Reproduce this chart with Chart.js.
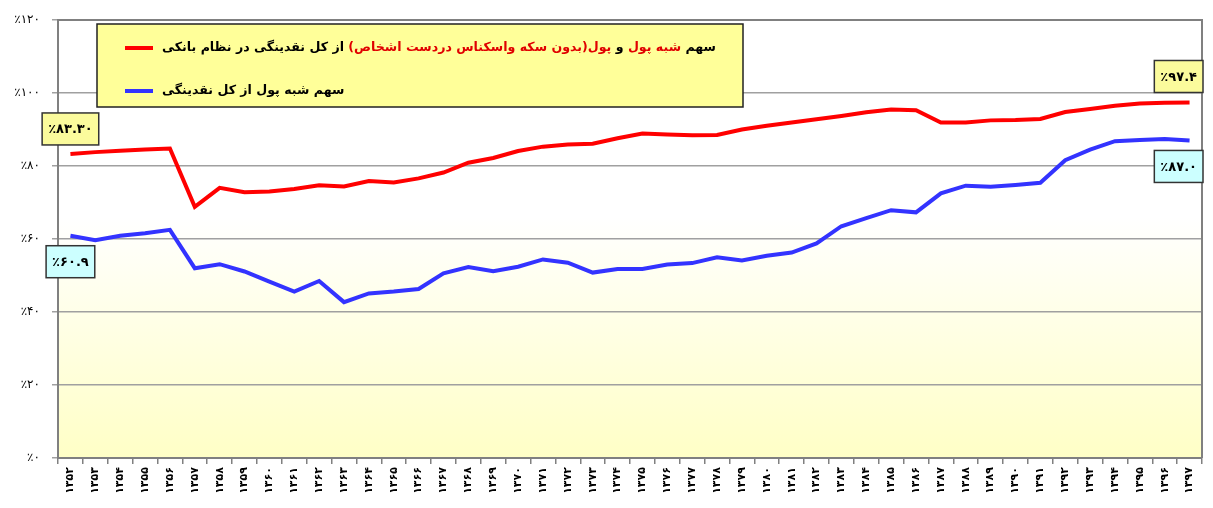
<!DOCTYPE html>
<html>
<head>
<meta charset="utf-8">
<script src="https://cdn.jsdelivr.net/npm/chart.js@4/dist/chart.umd.min.js"></script>
<style>
  html, body { margin: 0; padding: 0; background: #fff; }
  #wrap { width: 1213px; height: 508px; position: relative; }
</style>
</head>
<body>
<div id="wrap"><canvas id="myChart"></canvas></div>
<script>
const categories = ['۱۳۵۲','۱۳۵۳','۱۳۵۴','۱۳۵۵','۱۳۵۶','۱۳۵۷','۱۳۵۸','۱۳۵۹','۱۳۶۰','۱۳۶۱',
  '۱۳۶۲','۱۳۶۳','۱۳۶۴','۱۳۶۵','۱۳۶۶','۱۳۶۷','۱۳۶۸','۱۳۶۹','۱۳۷۰','۱۳۷۱',
  '۱۳۷۲','۱۳۷۳','۱۳۷۴','۱۳۷۵','۱۳۷۶','۱۳۷۷','۱۳۷۸','۱۳۷۹','۱۳۸۰','۱۳۸۱',
  '۱۳۸۲','۱۳۸۳','۱۳۸۴','۱۳۸۵','۱۳۸۶','۱۳۸۷','۱۳۸۸','۱۳۸۹','۱۳۹۰','۱۳۹۱',
  '۱۳۹۲','۱۳۹۳','۱۳۹۴','۱۳۹۵','۱۳۹۶','۱۳۹۷'];

// سهم شبه پول و پول از کل نقدینگی (قرمز)
const moneyShare = [83.3, 83.8, 84.2, 84.5, 84.8, 68.8, 74.0, 72.8, 73.0, 73.7,
  74.7, 74.4, 75.9, 75.5, 76.6, 78.2, 80.9, 82.2, 84.1, 85.3,
  85.9, 86.1, 87.6, 88.9, 88.6, 88.4, 88.5, 90.0, 91.0, 91.9,
  92.8, 93.7, 94.7, 95.5, 95.3, 91.9, 91.9, 92.5, 92.6, 92.9,
  94.8, 95.6, 96.5, 97.1, 97.3, 97.4];

// سهم شبه پول از کل نقدینگی (آبی)
const quasiShare = [60.9, 59.7, 60.9, 61.6, 62.5, 52.0, 53.1, 51.1, 48.3, 45.6,
  48.5, 42.7, 45.1, 45.6, 46.3, 50.6, 52.3, 51.2, 52.4, 54.4,
  53.5, 50.8, 51.8, 51.8, 53.0, 53.4, 55.0, 54.1, 55.4, 56.3,
  58.8, 63.5, 65.7, 67.9, 67.3, 72.5, 74.6, 74.3, 74.8, 75.4,
  81.6, 84.5, 86.8, 87.1, 87.4, 87.0];

const yTicks = [0, 20, 40, 60, 80, 100, 120];

// برچسب مقادیر ابتدا و انتها (بدون علامت درصد)
const redEndLabels = ['۸۳.۳۰', '۹۷.۴'];
const blueEndLabels = ['۶۰.۹', '۸۷.۰'];
const PCT = '٪';

const legendRed = [
  ['سهم ', '#000'], ['شبه پول', '#e00000'], [' و ', '#000'], ['پول', '#e00000'],
  ['(بدون سکه واسکناس دردست اشخاص)', '#e00000'], [' از کل نقدینگی در نظام بانکی', '#000']
];
const legendBlue = 'سهم شبه پول از کل نقدینگی';

const faDigits = '۰۱۲۳۴۵۶۷۸۹';
const toFa = v => String(v).replace(/\d/g, d => faDigits[d]);
const FONT = '"DejaVu Sans", sans-serif';

const bgPlugin = {
  id: 'bg',
  beforeDraw(chart) {
    const { ctx, chartArea: a } = chart;
    const g = ctx.createLinearGradient(0, a.top, 0, a.bottom);
    g.addColorStop(0, '#ffffff');
    g.addColorStop(0.45, '#ffffff');
    g.addColorStop(1, '#ffffc6');
    ctx.save();
    ctx.fillStyle = g;
    ctx.fillRect(a.left, a.top, a.right - a.left, a.bottom - a.top);
    ctx.restore();
  },
  afterDatasetsDraw(chart) {
    const { ctx, chartArea: a } = chart;
    ctx.save();
    ctx.strokeStyle = '#808080';
    ctx.lineWidth = 2;
    ctx.beginPath();
    ctx.moveTo(a.left, a.top);
    ctx.lineTo(a.right, a.top);
    ctx.lineTo(a.right, a.bottom);
    ctx.stroke();
    ctx.restore();
  }
};

// percent sign drawn on its own, to the left of the number
function drawPct(ctx, num, xRight, y) {
  ctx.direction = 'ltr';
  ctx.textAlign = 'right';
  ctx.fillText(num, xRight, y);
  ctx.fillText(PCT, xRight - ctx.measureText(num).width, y);
}

function drawBox(ctx, num, cx, cy, fill, rightEdge) {
  ctx.font = 'bold 13px ' + FONT;
  const tw = ctx.measureText(num).width + ctx.measureText(PCT).width;
  const w = tw + 12;
  const h = 32;
  let x = cx - w / 2;
  if (rightEdge !== undefined) x = rightEdge - w;
  ctx.fillStyle = fill;
  ctx.fillRect(x, cy - h / 2, w, h);
  ctx.strokeStyle = '#333';
  ctx.lineWidth = 1.5;
  ctx.strokeRect(x, cy - h / 2, w, h);
  ctx.fillStyle = '#000';
  ctx.textBaseline = 'middle';
  drawPct(ctx, num, x + 6 + tw, cy + 1);
}

const overlayPlugin = {
  id: 'overlay',
  afterDraw(chart) {
    const { ctx, chartArea: a } = chart;
    const red = chart.getDatasetMeta(0).data;
    const blue = chart.getDatasetMeta(1).data;
    const last = red.length - 1;
    ctx.save();

    // y tick percent signs
    const ys = chart.scales.y;
    ctx.font = '12px ' + FONT;
    ctx.fillStyle = '#000';
    ctx.textBaseline = 'middle';
    yTicks.forEach(v => {
      const num = toFa(v);
      ctx.textAlign = 'right';
      ctx.fillText(PCT, a.left - 18 - ctx.measureText(num).width, ys.getPixelForValue(v));
    });

    drawBox(ctx, redEndLabels[0], red[0].x, red[0].y - 25, '#fbfb9c');
    drawBox(ctx, redEndLabels[1], red[last].x, red[last].y - 26, '#fbfb9c', a.right + 1);
    drawBox(ctx, blueEndLabels[0], blue[0].x, blue[0].y + 26, '#ccffff');
    drawBox(ctx, blueEndLabels[1], blue[last].x, blue[last].y + 26, '#ccffff', a.right + 1);

    // legend box
    const bx = 97, by = 24, bw = 646, bh = 83;
    ctx.fillStyle = '#ffff99';
    ctx.fillRect(bx, by, bw, bh);
    ctx.strokeStyle = '#222';
    ctx.lineWidth = 1.5;
    ctx.strokeRect(bx, by, bw, bh);

    const rows = [
      { y: by + 24, color: '#ff0000', parts: legendRed },
      { y: by + 67, color: '#3333ff', parts: [[legendBlue, '#000']] }
    ];
    ctx.font = 'bold 12.6px ' + FONT;
    ctx.textBaseline = 'middle';
    rows.forEach(r => {
      ctx.strokeStyle = r.color;
      ctx.lineWidth = 4;
      ctx.beginPath();
      ctx.moveTo(125, r.y);
      ctx.lineTo(153, r.y);
      ctx.stroke();
      ctx.direction = 'rtl';
      ctx.textAlign = 'right';
      const total = r.parts.reduce((s, p) => s + ctx.measureText(p[0]).width, 0);
      let x = 162 + total;
      r.parts.forEach(p => {
        ctx.fillStyle = p[1];
        ctx.fillText(p[0], x, r.y);
        x -= ctx.measureText(p[0]).width;
      });
    });
    ctx.restore();
  }
};

new Chart(document.getElementById('myChart').getContext('2d'), {
  type: 'line',
  data: {
    labels: categories,
    datasets: [
      { data: moneyShare, borderColor: '#ff0000', borderWidth: 4, pointRadius: 0, tension: 0, fill: false },
      { data: quasiShare, borderColor: '#3333ff', borderWidth: 4, pointRadius: 0, tension: 0, fill: false }
    ]
  },
  options: {
    responsive: true,
    maintainAspectRatio: false,
    animation: false,
    layout: { padding: { top: 20, right: 11, left: 0, bottom: 0 } },
    plugins: { legend: { display: false }, tooltip: { enabled: false } },
    scales: {
      x: {
        offset: true,
        grid: { offset: true, drawOnChartArea: false, drawTicks: true, tickLength: 6, color: '#808080', lineWidth: 1.5 },
        border: { color: '#808080', width: 2 },
        ticks: {
          autoSkip: false, minRotation: 90, maxRotation: 90, padding: 3,
          color: '#000', font: { family: FONT, size: 11, weight: 'bold' }
        },
        afterFit(s) { s.height = 50; }
      },
      y: {
        min: 0, max: 120,
        afterBuildTicks(s) { s.ticks = yTicks.map(v => ({ value: v })); },
        grid: { color: '#a0a0a0', lineWidth: 1.5, tickLength: 6 },
        border: { color: '#808080', width: 2 },
        ticks: {
          padding: 12, color: '#000',
          font: { family: FONT, size: 12 },
          callback: v => toFa(v)
        },
        afterFit(s) { s.width = 58; }
      }
    }
  },
  plugins: [bgPlugin, overlayPlugin]
});
</script>
</body>
</html>
